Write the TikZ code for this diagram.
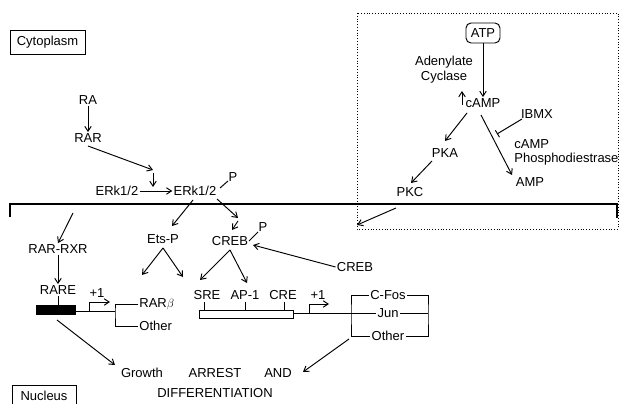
\documentclass[tikz,border=0pt]{standalone}
\usepackage{fontspec}
\setmainfont{Liberation Sans}
\usetikzlibrary{arrows.meta}
\begin{document}
\begin{tikzpicture}[x=1pt,y=-1pt,
  every node/.style={inner sep=1.2pt, font=\fontsize{13}{14.5}\selectfont},
  ln/.style={line width=0.95pt},
  arr/.style={ln,-{Straight Barb[length=5pt,width=6.5pt]}},
  inh/.style={ln,-{Bar[width=8pt]}}]
\useasboundingbox (0,0) rectangle (619,404);
% compartments
\node[draw,ln,minimum width=75pt,minimum height=24pt,inner sep=0] (cyto) at (47.5,42) {Cytoplasm};
\node[draw,ln,minimum width=64pt,minimum height=28pt,inner sep=0,anchor=north west] (nuc) at (12,385) {};
\node (nuctxt) at (44,396) {Nucleus};
\draw[line width=2.2pt] (10,217) -- (10,204) -- (617,204) -- (617,218);
\draw[dotted,line width=0.8pt] (357,13) rectangle (618,229);
% left cytoplasm
\node (RA) at (88,100) {RA};
\node (RAR) at (88,138) {RAR};
\node (E1) at (117,191) {ERk1/2};
\node (E2) at (195,191) {ERk1/2};
\node (P1) at (233,177) {P};
\coordinate (c1) at (153,170);
\coordinate (c2) at (153,173);
\coordinate (c3) at (153,187);
\draw[arr] (RA) -- (RAR);
\draw[arr] (88,146) -- (c1);
\draw[arr] (c2) -- (c3);
\draw[arr] (E1) -- (E2);
\coordinate (p1a) at (220,188);
\coordinate (p1b) at (228,181);
\draw[ln] (p1a) -- (p1b);
% right cytoplasm
\node[draw,ln,rounded corners=5pt,minimum width=34pt,minimum height=20pt,inner sep=0] (ATP) at (483,33) {ATP};
\node (cAMP) at (483,103) {cAMP};
\node[align=center] (AC) at (444,69.5) {Adenylate\\Cyclase};
\node (IBMX) at (537,114) {IBMX};
\node[align=left,anchor=west] (PDE) at (513,152.5) {cAMP\\Phosphodiestrase};
\node (PKA) at (445,153) {PKA};
\node (PKC) at (410,192) {PKC};
\node (AMP) at (530,182) {AMP};
\draw[arr] (ATP) -- (cAMP);
\coordinate (up1) at (462,105);
\coordinate (up2) at (462,91);
\draw[arr] (up1) -- (up2);
\coordinate (ib1) at (522,119);
\coordinate (ib2) at (497,134);
\draw[inh] (ib1) -- (ib2);
\coordinate (ca1) at (481,115);
\coordinate (ca2) at (512,175);
\draw[arr] (ca1) -- (ca2);
\coordinate (ca3) at (467,113);
\coordinate (pka1) at (445,141);
\draw[arr] (ca3) -- (pka1);
\coordinate (pka2) at (432,161);
\coordinate (pkc1) at (411,183);
\draw[arr] (pka2) -- (pkc1);
\coordinate (pkc2) at (396,208);
\coordinate (corner) at (357,225);
\draw[arr] (pkc2) -- (corner);
% nucleus left
\coordinate (n1) at (73,213);
\node (RXR) at (58,249) {RAR-RXR};
\node (RARE) at (58,290) {RARE};
\draw[arr] (n1) -- (RXR.north);
\draw[arr] (RXR) -- (RARE);
\node[fill=black,minimum width=40pt,minimum height=10pt,inner sep=0] (blk) at (56,310) {};
\draw[ln] (RARE.south) -- (blk.north -| RARE.south);
\coordinate (br1) at (115,311);
\draw[ln] (blk.east |- br1) -- (br1);
\coordinate (pr1) at (89,311);
\coordinate (pr2) at (89,302);
\coordinate (pr3) at (110,302);
\draw[arr] (pr1) -- (pr2) -- (pr3);
\node (plus1) at (97,293) {+1};
\node[anchor=west] (RARb) at (138,304) {RAR$\beta$};
\node[anchor=west] (Oth1) at (138,326) {Other};
\draw[ln] (RARb.west) -| (br1) |- (Oth1.west);
\coordinate (b1) at (57,320);
\node (Growth) at (142,373) {Growth};
\node (ARREST) at (215,373) {ARREST};
\node (AND) at (278,373) {AND};
\node (DIFF) at (215,393) {DIFFERENTIATION};
\coordinate (g1) at (115,365);
\draw[arr] (b1) -- (g1);
% nucleus middle
\node (EtsP) at (163,239) {Ets-P};
\node (CREB) at (230,241) {CREB};
\node (P2) at (263,227) {P};
\node (CREB2) at (355,267) {CREB};
\coordinate (e2a) at (193,200);
\coordinate (ets1) at (172,226);
\draw[arr] (e2a) -- (ets1);
\coordinate (e2b) at (217,199);
\coordinate (cr1) at (238,218);
\coordinate (cr2) at (238,221);
\coordinate (cr3) at (232,230);
\draw[arr] (e2b) -- (cr1);
\draw[arr] (cr2) -- (cr3);
\coordinate (p2a) at (249,241);
\coordinate (p2b) at (258,232);
\draw[ln] (p2a) -- (p2b);
\coordinate (cr4) at (253,245);
\draw[arr] (CREB2.west) -- (cr4);
\coordinate (ets2) at (163,248);
\coordinate (ets3) at (142,275);
\coordinate (ets4) at (183,277);
\draw[arr] (ets2) -- (ets3);
\draw[arr] (ets2) -- (ets4);
\coordinate (cr5) at (230,250);
\coordinate (cr6) at (200,280);
\coordinate (cr7) at (247,283);
\draw[arr] (cr5) -- (cr6);
\draw[arr] (cr5) -- (cr7);
\node (SRE) at (207,295) {SRE};
\node (AP1) at (245,295) {AP-1};
\node (CRE) at (283,295) {CRE};
\draw[ln] (199,310) rectangle (293,318);
\draw[ln] (204,302) -- (204,310);
\draw[ln] (245,302) -- (245,310);
\draw[ln] (284,302) -- (284,310);
\node (CFos) at (388,295) {C-Fos};
\node (Jun) at (388,313) {Jun};
\node (Oth2) at (388,336) {Other};
\coordinate (pb) at (293,313);
\draw[ln] (pb) -- (Jun.west);
\coordinate (pr4) at (309,313);
\coordinate (pr5) at (309,304);
\coordinate (pr6) at (329,304);
\draw[arr] (pr4) -- (pr5) -- (pr6);
\node (plus2) at (318,295) {+1};
\coordinate (lb) at (351,313);
\draw[ln] (CFos.west) -| (lb) |- (Oth2.west);
\coordinate (rb) at (428,313);
\draw[ln] (CFos.east) -| (rb) |- (Oth2.east);
\draw[ln] (Jun.east) -- (rb);
\coordinate (o1) at (349,339);
\coordinate (o2) at (303,372);
\draw[arr] (o1) -- (o2);
\end{tikzpicture}
\end{document}
